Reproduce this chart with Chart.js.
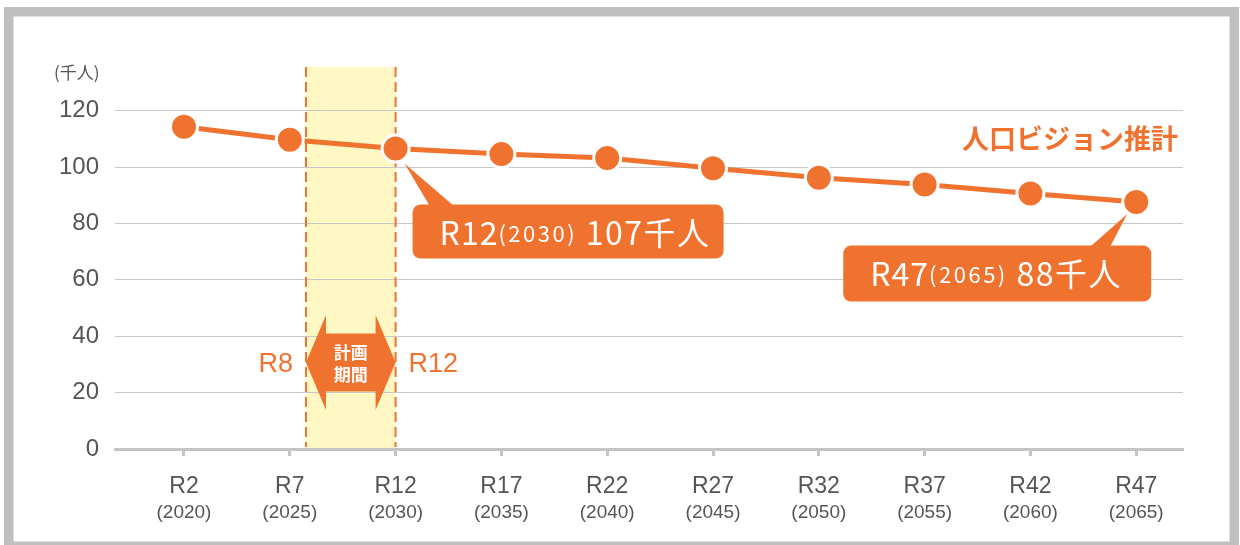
<!DOCTYPE html>
<html><head><meta charset="utf-8">
<script src="https://cdn.jsdelivr.net/npm/chart.js@4.4.1/dist/chart.umd.min.js"></script>
<style>html,body{margin:0;padding:0;background:#fff;overflow:hidden}#wrap{width:1240px;height:545px;position:relative}</style>
</head><body><div id="wrap"><canvas id="c" width="1240" height="545"></canvas></div>
<script>
// ---- data ----
const categories = ['R2','R7','R12','R17','R22','R27','R32','R37','R42','R47'];
const years = ['(2020)','(2025)','(2030)','(2035)','(2040)','(2045)','(2050)','(2055)','(2060)','(2065)'];
const population = [114.3, 109.7, 106.6, 104.6, 103.2, 99.6, 96.2, 93.8, 90.6, 87.6];
const yTicks = [0, 20, 40, 60, 80, 100, 120];
const unitLabel = '(千人)';
const seriesLabel = '人口ビジョン推計';
const planStartLabel = 'R8';
const planEndLabel = 'R12';
const planText = ['計画', '期間'];
const calloutIndices = [2, 9];
const valueUnit = '千人';

// ---- style / layout constants ----
const ORANGE = '#f0722f';
const GRAY_TEXT = '#555555';
const planStart = 1.153, planEnd = 2;     // category-index positions of the plan band
const bandTopValue = 135.5, arrowValue = 30.7;
const JP = '"Noto Sans CJK JP", "Noto Sans", sans-serif';
const LAT = '"Liberation Sans", Arial, sans-serif';

const callouts = [
  {dx: 17, dy: 56, w: 311, h: 54, apex: [9, 15], base: [35, 60]},
  {dx: -293, dy: 43.5, w: 308, h: 56, apex: [-9, 12], base: [-48, -27]}
];

const decor = {
  id: 'decor',
  beforeDraw(chart) {
    const {ctx, scales: {x, y}} = chart;
    ctx.save();
    ctx.fillStyle = '#fff';
    ctx.fillRect(0, 0, chart.width, chart.height);
    ctx.strokeStyle = '#bfbfbf';
    ctx.lineWidth = 9.5;
    ctx.strokeRect(8.75, 11.75, 1239 - 4.75 - 8.75, 551 - 4.75 - 11.75);
    const xl = x.getPixelForValue(planStart), xr = x.getPixelForValue(planEnd);
    const yt = y.getPixelForValue(bandTopValue), yb = y.getPixelForValue(0);
    ctx.fillStyle = '#fff8c4';
    ctx.fillRect(xl, yt, xr - xl, yb - yt);
    ctx.restore();
  },
  beforeDatasetsDraw(chart) {
    const {ctx, scales: {x, y}} = chart;
    const xl = x.getPixelForValue(planStart), xr = x.getPixelForValue(planEnd);
    const yt = y.getPixelForValue(bandTopValue), yb = y.getPixelForValue(0);
    ctx.save();
    ctx.strokeStyle = ORANGE;
    ctx.lineWidth = 2;
    ctx.setLineDash([10, 5]);
    [xl, xr].forEach(px => {
      ctx.beginPath(); ctx.moveTo(px, yt); ctx.lineTo(px, yb - 2); ctx.stroke();
    });
    ctx.setLineDash([]);
    const yc = y.getPixelForValue(arrowValue);
    const hl = 20, sh = 29, hh = 47.5;
    ctx.fillStyle = ORANGE;
    ctx.beginPath();
    ctx.moveTo(xl, yc);
    ctx.lineTo(xl + hl, yc - hh); ctx.lineTo(xl + hl, yc - sh);
    ctx.lineTo(xr - hl, yc - sh); ctx.lineTo(xr - hl, yc - hh);
    ctx.lineTo(xr, yc);
    ctx.lineTo(xr - hl, yc + hh); ctx.lineTo(xr - hl, yc + sh);
    ctx.lineTo(xl + hl, yc + sh); ctx.lineTo(xl + hl, yc + hh);
    ctx.closePath(); ctx.fill();
    ctx.fillStyle = '#fff';
    ctx.font = 'bold 17px ' + JP;
    ctx.textAlign = 'center'; ctx.textBaseline = 'middle';
    ctx.fillText(planText[0], (xl + xr) / 2, yc - 10);
    ctx.fillText(planText[1], (xl + xr) / 2, yc + 12.5);
    ctx.fillStyle = ORANGE;
    ctx.font = '27px ' + LAT;
    ctx.textAlign = 'right';
    ctx.fillText(planStartLabel, xl - 13, yc + 2);
    ctx.textAlign = 'left';
    ctx.fillText(planEndLabel, xr + 13, yc + 2);
    calloutIndices.forEach((idx, k) => {
      const c = callouts[k];
      const px = x.getPixelForValue(idx), py = y.getPixelForValue(population[idx]);
      const bx = px + c.dx, by = py + c.dy;
      ctx.fillStyle = ORANGE;
      ctx.beginPath();
      ctx.moveTo(px + c.apex[0], py + c.apex[1]);
      ctx.lineTo(px + c.base[0], by + 3);
      ctx.lineTo(px + c.base[1], by + 3);
      ctx.closePath(); ctx.fill();
      ctx.beginPath();
      ctx.roundRect(bx, by, c.w, c.h, 8);
      ctx.fill();
      ctx.fillStyle = '#fff';
      ctx.textAlign = 'left'; ctx.textBaseline = 'middle';
      let tx = bx + 27; const ty = by + 28;
      ctx.font = '400 32px ' + JP;
      ctx.letterSpacing = '1px';
      ctx.fillText(categories[idx], tx, ty);
      tx += ctx.measureText(categories[idx]).width;
      ctx.font = '400 22px ' + JP;
      ctx.letterSpacing = '2.5px';
      ctx.fillText(years[idx], tx, ty + 1);
      tx += ctx.measureText(years[idx]).width;
      ctx.letterSpacing = '1.5px';
      ctx.font = '400 32px ' + JP;
      ctx.fillText(' ' + Math.round(population[idx]) + valueUnit, tx, ty);
      ctx.letterSpacing = '0px';
    });
    ctx.restore();
  },
  afterDraw(chart) {
    const {ctx} = chart;
    ctx.save();
    ctx.fillStyle = ORANGE;
    ctx.font = 'bold 27px ' + JP;
    ctx.textAlign = 'right'; ctx.textBaseline = 'middle';
    ctx.fillText(seriesLabel, 1178, 139);
    ctx.fillStyle = GRAY_TEXT;
    ctx.font = '17px ' + JP;
    ctx.textAlign = 'left';
    ctx.fillText(unitLabel, 54, 73);
    ctx.restore();
  }
};

const xCommon = {
  type: 'linear', position: 'bottom', min: -0.652, max: 9.442,
  afterBuildTicks: s => { s.ticks = categories.map((c, i) => ({value: i})); }
};

new Chart(document.getElementById('c'), {
  type: 'line',
  data: {
    datasets: [{
      data: population.map((v, i) => ({x: i, y: v})),
      borderColor: ORANGE, borderWidth: 5,
      pointRadius: 13.5, pointHoverRadius: 13.5, pointBorderWidth: 3, pointHoverBorderWidth: 3,
      pointBackgroundColor: ORANGE, pointBorderColor: '#fff',
      tension: 0, clip: false
    }]
  },
  options: {
    responsive: false, animation: false, devicePixelRatio: 1,
    events: [],
    layout: {padding: {left: 0, right: 57, top: 110.7, bottom: 0}},
    plugins: {legend: {display: false}, tooltip: {enabled: false}},
    scales: {
      x: Object.assign({}, xCommon, {
        weight: 0,
        afterFit: s => { s.height = 50; },
        grid: {drawOnChartArea: false, drawTicks: true, tickLength: 7, tickWidth: 3, tickColor: '#c3c4c6'},
        border: {display: true, width: 3, color: '#c3c4c6'},
        ticks: {callback: v => categories[Math.round(v)], font: {family: LAT, size: 23}, color: GRAY_TEXT, padding: 17, maxRotation: 0, autoSkip: false}
      }),
      x2: Object.assign({}, xCommon, {
        weight: 1,
        afterFit: s => { s.height = 46; },
        grid: {display: false, drawTicks: false},
        border: {display: false},
        ticks: {callback: v => years[Math.round(v)], font: {family: LAT, size: 19}, color: GRAY_TEXT, padding: 2, maxRotation: 0, autoSkip: false}
      }),
      y: {
        min: 0, max: 120,
        afterBuildTicks: s => { s.ticks = yTicks.map(v => ({value: v})); },
        afterFit: s => { s.width = 115; },
        grid: {color: '#c8c8c8', lineWidth: 1, drawTicks: false},
        border: {display: false},
        ticks: {font: {family: LAT, size: 24}, color: GRAY_TEXT, padding: 16}
      }
    }
  },
  plugins: [decor]
});
</script>
</body></html>
